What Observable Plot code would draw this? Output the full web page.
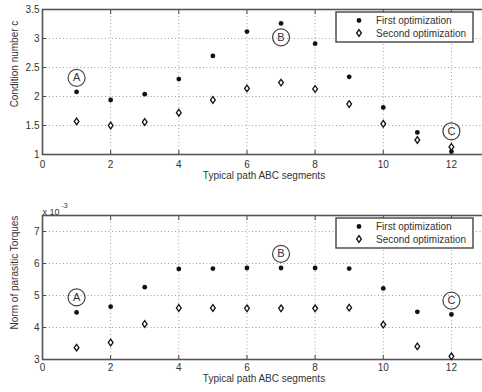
<!DOCTYPE html>
<html>
<head>
<meta charset="utf-8">
<script src="https://cdn.jsdelivr.net/npm/d3@7"></script>
<script src="https://cdn.jsdelivr.net/npm/@observablehq/plot@0.6"></script>
<style>
  html, body { margin: 0; padding: 0; background: #fff; overflow: hidden; }
  #wrap { width: 482px; }
  .panel { position: relative; width: 482px; height: 196px; overflow: hidden; }
  .panel svg { display: block; }
  .legend { position: absolute; }
</style>
</head>
<body>
<div id="wrap"></div>
<script>
// ---- data ----
const segments = [1, 2, 3, 4, 5, 6, 7, 8, 9, 10, 11, 12];
const firstCond = [2.08, 1.94, 2.04, 2.30, 2.70, 3.12, 3.26, 2.91, 2.34, 1.81, 1.38, 1.05];
const secondCond = [1.57, 1.50, 1.56, 1.72, 1.94, 2.14, 2.24, 2.13, 1.87, 1.53, 1.25, 1.13];
const firstTorque = [4.47, 4.65, 5.26, 5.83, 5.84, 5.86, 5.86, 5.86, 5.84, 5.22, 4.49, 4.41];
const secondTorque = [3.37, 3.53, 4.11, 4.61, 4.61, 4.60, 4.60, 4.60, 4.62, 4.09, 3.41, 3.10];
const annotLabels = ["A", "B", "C"];
const annotX = [1, 7, 12];
const annotCondY = [2.32, 3.02, 1.40];
const annotTorqueY = [4.94, 6.30, 4.84];
const xTicks = [0, 2, 4, 6, 8, 10, 12];
const condTicks = [1, 1.5, 2, 2.5, 3, 3.5];
const torqueTicks = [3, 4, 5, 6, 7];
const seriesNames = ["First optimization", "Second optimization"];
const xLabel = "Typical path ABC segments";
const condLabel = "Condition number c";
const torqueLabel = "Norm of parasitic Torques";

const ink = "#333";
const font = "'Liberation Sans', Arial, Helvetica, sans-serif";

// wider diamond like MATLAB's
const diamond = {
  draw(context, size) {
    const a = Math.sqrt(size / Math.PI);
    const w = a * 0.72;
    context.moveTo(0, -a);
    context.lineTo(w, 0);
    context.lineTo(0, a);
    context.lineTo(-w, 0);
    context.closePath();
  }
};

const blank = () => "";
const plain = (d) => String(d);

function panel(cfg) {
  const rows = segments.map((s, i) => ({x: s, first: cfg.first[i], second: cfg.second[i]}));
  const ann = annotLabels.map((t, i) => ({t, x: annotX[i], y: cfg.annotY[i]}));
  const marks = [
    Plot.gridX(xTicks, {stroke: "#888", strokeOpacity: 1, strokeWidth: 0.8, strokeDasharray: "1,2.5"}),
    Plot.gridY(cfg.yTicks, {stroke: "#888", strokeOpacity: 1, strokeWidth: 0.8, strokeDasharray: "1,2.5"}),
    Plot.axisX(xTicks, {anchor: "bottom", tickSize: 4, dy: -4, tickFormat: blank, label: null, stroke: "#444"}),
    Plot.axisX(xTicks, {anchor: "top", tickSize: 4, dy: 4, tickFormat: blank, label: null, stroke: "#444"}),
    Plot.axisY(cfg.yTicks, {anchor: "left", tickSize: 4, dx: 4, tickFormat: blank, label: null, stroke: "#444"}),
    Plot.axisX(xTicks, {anchor: "bottom", tickSize: 0, tickPadding: cfg.xPad, tickFormat: plain, label: null, fill: ink, fontSize: 10}),
    Plot.axisY(cfg.yTicks, {anchor: "left", tickSize: 0, tickPadding: 3, tickFormat: plain, label: null, fill: ink, fontSize: 10}),
    Plot.frame({stroke: "#555", strokeWidth: 1.6}),
    Plot.dot(rows, {x: "x", y: "first", r: 2.4, fill: "#111", stroke: null}),
    Plot.dot(rows, {x: "x", y: "second", r: 3.3, symbol: diamond, fill: "#fff", stroke: "#111", strokeWidth: 1.3}),
    Plot.dot(ann, {x: "x", y: "y", r: 8.5, fill: "none", stroke: "#444", strokeWidth: 1.2}),
    Plot.text(ann, {x: "x", y: "y", text: "t", fontSize: 11, fill: ink}),
    Plot.text([xLabel], {frameAnchor: "bottom", dy: cfg.xLabelDy, fontSize: 10, fill: ink}),
    Plot.text([cfg.yLabel], {frameAnchor: "left", textAnchor: "middle", rotate: -90, dx: -28, dy: cfg.yLabelDy, fontSize: 10, fill: ink})
  ];
  if (cfg.extra) marks.push(...cfg.extra);
  const chart = Plot.plot({
    width: 482,
    height: 196,
    marginLeft: 42,
    marginRight: -3,
    marginTop: cfg.marginTop,
    marginBottom: cfg.marginBottom,
    style: {fontFamily: font, fontSize: "10px", color: ink, background: "#fff", overflow: "hidden"},
    x: {domain: [0, 13]},
    y: {domain: cfg.yDomain},
    marks
  });
  const div = document.createElement("div");
  div.className = "panel";
  div.appendChild(chart);
  // legend
  const lg = d3.create("svg").attr("class", "legend")
    .attr("width", 140).attr("height", 33)
    .style("left", "335px").style("top", cfg.legendTop + "px");
  lg.append("rect").attr("x", 1).attr("y", 1).attr("width", 137).attr("height", 30)
    .attr("fill", "#fff").attr("stroke", "#444").attr("stroke-width", 1.4);
  lg.append("circle").attr("cx", 24).attr("cy", 9.5).attr("r", 2.4).attr("fill", "#111");
  lg.append("path").attr("transform", "translate(24,22)")
    .attr("d", d3.symbol(diamond, 3.3 * 3.3 * Math.PI)())
    .attr("fill", "#fff").attr("stroke", "#111").attr("stroke-width", 1.3);
  seriesNames.forEach((n, i) => {
    lg.append("text").attr("x", 41).attr("y", 9.5 + i * 12.5).attr("dy", "0.35em")
      .attr("font-family", font).attr("font-size", 10).attr("fill", ink).text(n);
  });
  div.appendChild(lg.node());
  document.getElementById("wrap").appendChild(div);
}

panel({
  first: firstCond, second: secondCond, annotY: annotCondY,
  yDomain: [1, 3.5], yTicks: condTicks,
  marginTop: 9, marginBottom: 42, xPad: 6, xLabelDy: 24,
  yLabel: condLabel, yLabelDy: -18, legendTop: 11
});

panel({
  first: firstTorque, second: secondTorque, annotY: annotTorqueY,
  yDomain: [3, 7.5], yTicks: torqueTicks,
  marginTop: 19, marginBottom: 33, xPad: 4, xLabelDy: 22,
  yLabel: torqueLabel, yLabelDy: -15, legendTop: 21,
  extra: [
    Plot.text(["x 10"], {frameAnchor: "top-left", textAnchor: "start", dy: -7, dx: 0, fontSize: 9, fill: ink}),
    Plot.text(["-3"], {frameAnchor: "top-left", textAnchor: "start", dy: -12, dx: 19, fontSize: 7, fill: ink})
  ]
});
</script>
</body>
</html>
